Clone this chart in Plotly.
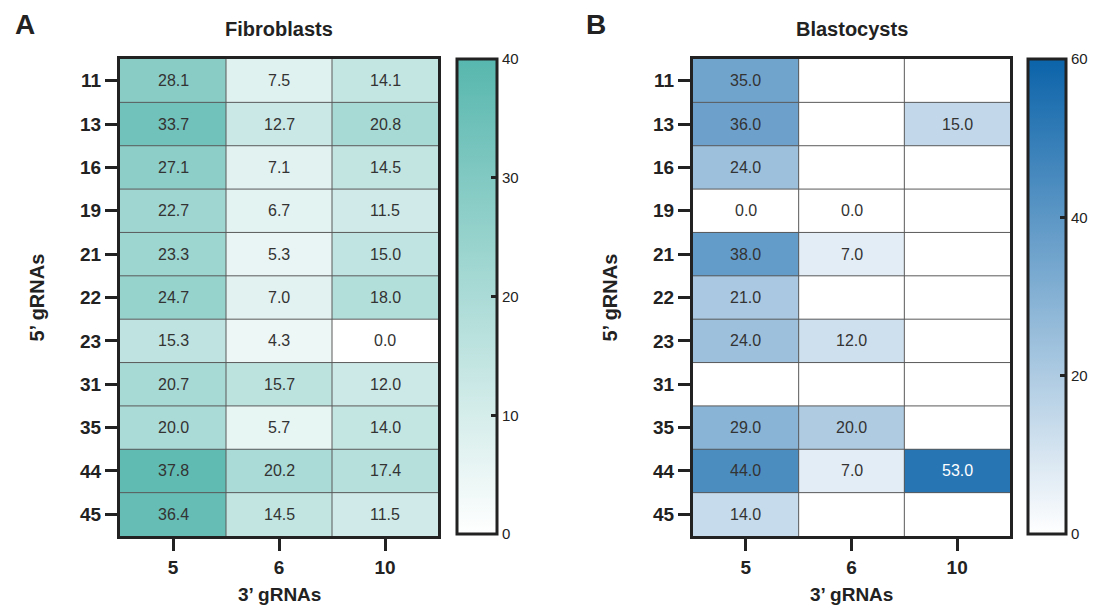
import plotly.graph_objects as go
import numpy as np

rows_5p = ["11", "13", "16", "19", "21", "22", "23", "31", "35", "44", "45"]
cols_3p = ["5", "6", "10"]

fibro = [
    [28.1, 7.5, 14.1],
    [33.7, 12.7, 20.8],
    [27.1, 7.1, 14.5],
    [22.7, 6.7, 11.5],
    [23.3, 5.3, 15.0],
    [24.7, 7.0, 18.0],
    [15.3, 4.3, 0.0],
    [20.7, 15.7, 12.0],
    [20.0, 5.7, 14.0],
    [37.8, 20.2, 17.4],
    [36.4, 14.5, 11.5],
]
nan = None
blasto = [
    [35.0, nan, nan],
    [36.0, nan, 15.0],
    [24.0, nan, nan],
    [0.0, 0.0, nan],
    [38.0, 7.0, nan],
    [21.0, nan, nan],
    [24.0, 12.0, nan],
    [nan, nan, nan],
    [29.0, 20.0, nan],
    [44.0, 7.0, 53.0],
    [14.0, nan, nan],
]
fibro_ticks = [0, 10, 20, 30, 40]
blasto_ticks = [0, 20, 40, 60]

FONT = "Liberation Sans, Arial, sans-serif"
DARK = "#222222"
OFF = 8                     # page body margin offset
W, H = 1099 - 2 * OFF, 614 - 2 * OFF


def px_x(p):
    return (p - OFF) / W


def px_y(p):
    return 1 - (p - OFF) / H


def hex2rgb(h):
    return np.array([int(h[i:i + 2], 16) for i in (1, 3, 5)], dtype=float)


fig = go.Figure()

panels = [
    dict(z=fibro, zmax=40, ticks=fibro_ticks, c0="#ffffff", c1="#57b7ae",
         xdom=[px_x(120), px_x(438)], cbx=px_x(457), cbthick=40,
         title="Fibroblasts", letter="A", letter_x=px_x(25), letter_y=px_y(25),
         ytitle_x=px_x(36)),
    dict(z=blasto, zmax=60, ticks=blasto_ticks, c0="#ffffff", c1="#0b63a9",
         xdom=[px_x(693), px_x(1010)], cbx=px_x(1028), cbthick=38,
         title="Blastocysts", letter="B", letter_x=px_x(596), letter_y=px_y(25),
         ytitle_x=px_x(609)),
]
ydom = [px_y(536), px_y(59)]
cb_top, cb_bot = 59, 534
cb_len = (cb_bot - cb_top) / H
nr, nc = len(rows_5p), len(cols_3p)
xi = list(range(nc))
yi = list(range(nr))

for i, p in enumerate(panels):
    n = i + 1
    xa = "x" if n == 1 else f"x{n}"
    ya = "y" if n == 1 else f"y{n}"
    z = np.array([[np.nan if v is None else v for v in r] for r in p["z"]], dtype=float)
    fig.add_trace(go.Heatmap(
        z=z, x=xi, y=yi, xaxis=xa, yaxis=ya,
        zmin=0, zmax=p["zmax"], colorscale=[[0, p["c0"]], [1, p["c1"]]], hoverongaps=False,
        colorbar=dict(
            x=p["cbx"], xanchor="left", y=px_y(cb_top), yanchor="top",
            len=cb_len, lenmode="fraction", thickness=p["cbthick"],
            thicknessmode="pixels", outlinewidth=3, outlinecolor=DARK,
            tickvals=p["ticks"], ticks="inside", ticklen=7, tickwidth=2.5,
            tickcolor=DARK, tickfont=dict(family=FONT, size=15, color=DARK),
            xpad=0, ypad=0,
        ),
    ))
    axis_common = dict(showline=True, linewidth=3, linecolor=DARK, mirror=True,
                       ticks="outside", tickwidth=3, tickcolor=DARK,
                       tickfont=dict(family=FONT, size=19, color=DARK, weight="bold"),
                       showgrid=False, zeroline=False, ticklen=12)
    fig.layout[f"xaxis{'' if n == 1 else n}"] = dict(
        axis_common, domain=p["xdom"], anchor=ya, tickvals=xi, ticktext=cols_3p,
        range=[-0.5, nc - 0.5])
    fig.layout[f"yaxis{'' if n == 1 else n}"] = dict(
        axis_common, domain=ydom, anchor=xa, tickvals=yi, ticktext=rows_5p,
        range=[nr - 0.5, -0.5])

    # inner grid lines
    for c in range(1, nc):
        fig.add_shape(type="line", xref=xa, yref=ya, x0=c - 0.5, x1=c - 0.5,
                      y0=-0.5, y1=nr - 0.5, line=dict(color="#5a5a5a", width=1), layer="above")
    for r in range(1, nr):
        fig.add_shape(type="line", xref=xa, yref=ya, x0=-0.5, x1=nc - 0.5,
                      y0=r - 0.5, y1=r - 0.5, line=dict(color="#5a5a5a", width=1), layer="above")

    # left-side inward ticks of the colour bar
    for v in p["ticks"][1:-1]:
        yv = px_y(cb_top) - (1 - v / p["zmax"]) * cb_len
        fig.add_shape(type="line", xref="paper", yref="paper", x0=p["cbx"],
                      x1=p["cbx"] + 7 / W, y0=yv, y1=yv, line=dict(color=DARK, width=2.5))

    # cell text
    a, b = hex2rgb(p["c0"]), hex2rgb(p["c1"])
    for r in range(nr):
        for c in range(nc):
            v = z[r, c]
            if np.isnan(v):
                continue
            col = a + (b - a) * (v / p["zmax"])
            lum = (0.299 * col[0] + 0.587 * col[1] + 0.114 * col[2]) / 255
            fig.add_annotation(x=c, y=r, xref=xa, yref=ya,
                               text=f"{v:.1f}", showarrow=False,
                               font=dict(family=FONT, size=16,
                                         color="#ffffff" if lum < 0.45 else "#333333"))

    xc = (p["xdom"][0] + p["xdom"][1]) / 2
    fig.add_annotation(x=xc, y=px_y(29), xref="paper", yref="paper", text=p["title"],
                       showarrow=False, xanchor="center", yanchor="middle",
                       font=dict(family=FONT, size=20, color=DARK, weight="bold"))
    fig.add_annotation(x=p["letter_x"], y=p["letter_y"], xref="paper", yref="paper",
                       text=p["letter"], showarrow=False, xanchor="center", yanchor="middle",
                       font=dict(family=FONT, size=28, color=DARK, weight="bold"))
    fig.add_annotation(x=xc, y=px_y(594), xref="paper", yref="paper", text="3’ gRNAs",
                       showarrow=False, xanchor="center", yanchor="middle",
                       font=dict(family=FONT, size=19, color=DARK, weight="bold"))
    fig.add_annotation(x=p["ytitle_x"], y=(ydom[0] + ydom[1]) / 2, xref="paper", yref="paper",
                       text="5’ gRNAs", showarrow=False, textangle=-90,
                       xanchor="center", yanchor="middle",
                       font=dict(family=FONT, size=20, color=DARK, weight="bold"))

fig.update_layout(
    width=W, height=H, margin=dict(l=0, r=0, t=0, b=0, autoexpand=False),
    paper_bgcolor="#ffffff", plot_bgcolor="#ffffff", showlegend=False,
    font=dict(family=FONT, color=DARK),
)

fig.write_html("out.html")
